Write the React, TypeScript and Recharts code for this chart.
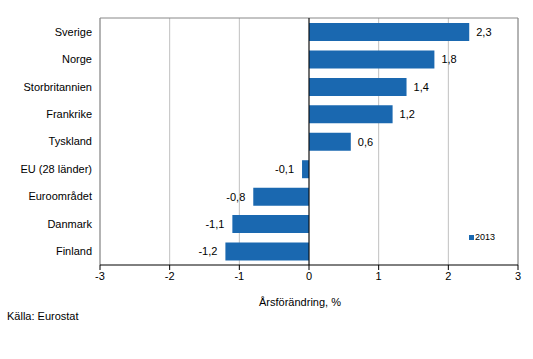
import React from "react";
import {
  BarChart,
  Bar,
  XAxis,
  YAxis,
  CartesianGrid,
  ReferenceLine,
  LabelList,
} from "recharts";

const categories = [
  "Sverige",
  "Norge",
  "Storbritannien",
  "Frankrike",
  "Tyskland",
  "EU (28 länder)",
  "Euroområdet",
  "Danmark",
  "Finland",
];
const values2013 = [2.3, 1.8, 1.4, 1.2, 0.6, -0.1, -0.8, -1.1, -1.2];
const xTicks = [-3, -2, -1, 0, 1, 2, 3];
const seriesName = "2013";
const axisTitle = "Årsförändring, %";
const source = "Källa: Eurostat";

const data = categories.map((c, i) => ({ name: c, v: values2013[i] }));

const FONT = "'Liberation Sans', Arial, sans-serif";
const BAR = "#1a68b0";

const fmt = (v: number) => String(v).replace(".", ",");

const ValueLabel = (props: any) => {
  const { x, y, width, height, value } = props;
  const left = Math.min(x, x + width);
  const right = Math.max(x, x + width);
  const cy = y + height / 2;
  const pos = value >= 0;
  return (
    <text
      x={pos ? right + 7 : left - 8}
      y={cy}
      dy="0.35em"
      textAnchor={pos ? "start" : "end"}
      fontSize={11}
      fontFamily={FONT}
      fill="#000"
    >
      {fmt(value)}
    </text>
  );
};

export default function App() {
  return (
    <div style={{ position: "absolute", left: 0, top: 0, width: 533, height: 359, background: "#fff" }}>
      <BarChart
        width={533}
        height={359}
        data={data}
        layout="vertical"
        margin={{ top: 18, right: 15, bottom: 49, left: 0 }}
        barSize={18}
      >
        <CartesianGrid horizontal={false} stroke="#c0c0c0" />
        <CartesianGrid
          stroke="#888"
          horizontalCoordinatesGenerator={({ offset }: any) => [offset.top]}
          verticalCoordinatesGenerator={({ offset }: any) => [offset.left, offset.left + offset.width]}
        />
        <XAxis
          type="number"
          domain={[-3, 3]}
          ticks={xTicks}
          height={45}
          tickSize={5}
          tickMargin={2}
          axisLine={{ stroke: "#000" }}
          tickLine={{ stroke: "#000" }}
          tick={{ fontSize: 11, fontFamily: FONT, fill: "#000" }}
          label={{
            value: axisTitle,
            position: "insideBottom",
            offset: 4,
            dx: -9,
            style: { fontSize: 11, fontFamily: FONT, fill: "#000" },
          }}
        />
        <YAxis
          type="category"
          dataKey="name"
          width={100}
          tickLine={false}
          axisLine={false}
          tickSize={0}
          tickMargin={8}
          interval={0}
          tick={{ fontSize: 11, fontFamily: FONT, fill: "#000" }}
        />
        <Bar dataKey="v" name={seriesName} fill={BAR} isAnimationActive={false}>
          <LabelList dataKey="v" content={<ValueLabel />} />
        </Bar>
        <ReferenceLine x={0} stroke="#000" strokeWidth={1} />
      </BarChart>
      <div
        style={{
          position: "absolute",
          left: 469,
          top: 232,
          display: "flex",
          alignItems: "center",
          fontFamily: FONT,
          fontSize: 9,
          color: "#000",
          whiteSpace: "nowrap",
        }}
      >
        <span style={{ display: "inline-block", width: 5, height: 5, background: BAR, marginRight: 1 }} />
        <span>{seriesName}</span>
      </div>
      <div
        style={{
          position: "absolute",
          left: 7,
          top: 310,
          fontFamily: FONT,
          fontSize: 11,
          color: "#000",
          whiteSpace: "nowrap",
        }}
      >
        {source}
      </div>
    </div>
  );
}
